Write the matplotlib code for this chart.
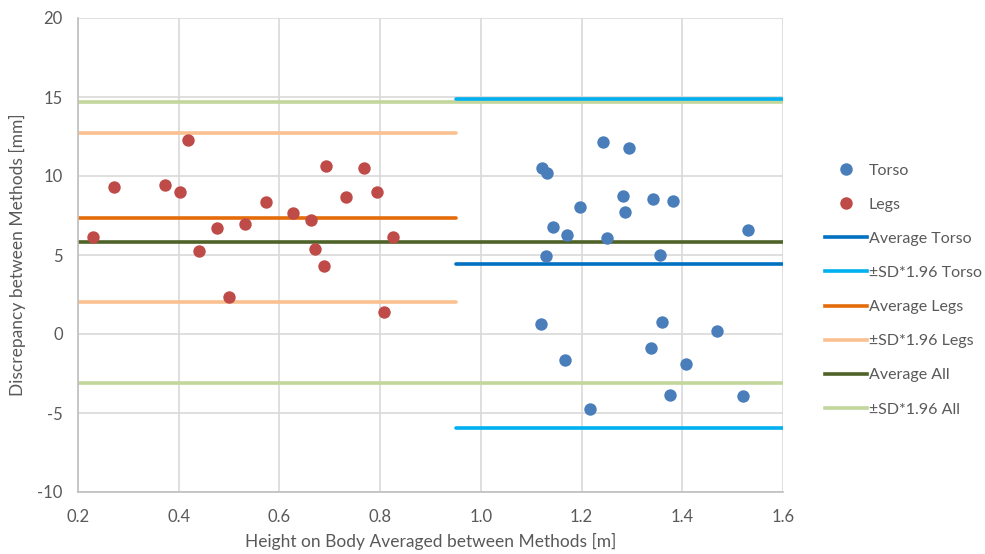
import matplotlib
matplotlib.use("Agg")
import matplotlib.pyplot as plt
from matplotlib.lines import Line2D

plt.rcParams['font.family'] = ['Lato', 'DejaVu Sans']
plt.rcParams['axes.unicode_minus'] = False

# Data
torso_x = [1.122, 1.132, 1.243, 1.294, 1.282, 1.341, 1.382, 1.197, 1.287, 1.143, 1.171, 1.251,
           1.531, 1.130, 1.355, 1.119, 1.167, 1.217, 1.359, 1.337, 1.468, 1.408, 1.376, 1.520]
torso_y = [10.49, 10.17, 12.17, 11.79, 8.73, 8.56, 8.40, 8.02, 7.70, 6.79, 6.28, 6.09,
           6.58, 4.92, 4.98, 0.61, -1.62, -4.73, 0.74, -0.89, 0.17, -1.92, -3.86, -3.90]
legs_x = [0.230, 0.272, 0.373, 0.403, 0.418, 0.440, 0.477, 0.499, 0.532, 0.573,
          0.627, 0.662, 0.670, 0.689, 0.693, 0.732, 0.767, 0.793, 0.808, 0.825]
legs_y = [6.16, 9.32, 9.43, 9.01, 12.28, 5.27, 6.73, 2.34, 6.96, 8.37,
          7.64, 7.22, 5.40, 4.30, 10.61, 8.69, 10.49, 9.01, 1.41, 6.16]

torso_range = [0.95, 1.6]
legs_range = [0.2, 0.95]
all_range = [0.2, 1.6]
avg_torso = 4.45
sd_torso = [14.87, -5.95]
avg_legs = 7.35
sd_legs = [12.72, 2.03]
avg_all = 5.8
sd_all = [14.7, -3.1]

x_ticks = [0.2, 0.4, 0.6, 0.8, 1.0, 1.2, 1.4, 1.6]
y_ticks = [-10, -5, 0, 5, 10, 15, 20]

c_torso = '#4A7EBB'
c_legs = '#BE4B48'
c_avg_torso = '#0070C0'
c_sd_torso = '#00B0F0'
c_avg_legs = '#E46C0A'
c_sd_legs = '#FAC090'
c_avg_all = '#4F6228'
c_sd_all = '#C3D69B'
txt = '#595959'

fig = plt.figure(figsize=(9.85, 5.54), dpi=100)
ax = fig.add_axes([78/985, 62/554, 705/985, 474/554])

lw = 2.6
ax.plot(all_range, [sd_all[0]] * 2, color=c_sd_all, lw=lw, zorder=2)
ax.plot(all_range, [sd_all[1]] * 2, color=c_sd_all, lw=lw, zorder=2)
ax.plot(all_range, [avg_all] * 2, color=c_avg_all, lw=lw, zorder=2)
ax.plot(legs_range, [sd_legs[0]] * 2, color=c_sd_legs, lw=lw, zorder=2, solid_capstyle='round')
ax.plot(legs_range, [sd_legs[1]] * 2, color=c_sd_legs, lw=lw, zorder=2, solid_capstyle='round')
ax.plot(legs_range, [avg_legs] * 2, color=c_avg_legs, lw=lw, zorder=2, solid_capstyle='round')
ax.plot(torso_range, [sd_torso[0]] * 2, color=c_sd_torso, lw=lw, zorder=2, solid_capstyle='round')
ax.plot(torso_range, [sd_torso[1]] * 2, color=c_sd_torso, lw=lw, zorder=2, solid_capstyle='round')
ax.plot(torso_range, [avg_torso] * 2, color=c_avg_torso, lw=lw, zorder=2, solid_capstyle='round')

ax.scatter(torso_x, torso_y, s=80, color=c_torso, zorder=3, linewidths=0)
ax.scatter(legs_x, legs_y, s=80, color=c_legs, zorder=3, linewidths=0)

ax.set_xlim(0.2, 1.6)
ax.set_ylim(-10, 20)
ax.set_xticks(x_ticks)
ax.set_xticklabels([f"{v:.1f}" for v in x_ticks])
ax.set_yticks(y_ticks)
ax.grid(True, color='#D9D9D9', lw=1.2, zorder=0)
ax.set_axisbelow(True)
for s in ['top', 'right']:
    ax.spines[s].set_visible(False)
for s in ['left', 'bottom']:
    ax.spines[s].set_color('#BFBFBF')
    ax.spines[s].set_linewidth(1.2)
ax.tick_params(length=0, labelsize=12, colors=txt)
ax.tick_params(axis='x', pad=12)
ax.tick_params(axis='y', pad=11)
ax.set_xlabel('Height on Body Averaged between Methods [m]', fontsize=12.5, color=txt, labelpad=6)
ax.set_ylabel('Discrepancy between Methods [mm]', fontsize=12.5, color=txt, labelpad=8)

handles = [
    Line2D([], [], ls='none', marker='o', ms=9, color=c_torso, mec='none'),
    Line2D([], [], ls='none', marker='o', ms=9, color=c_legs, mec='none'),
    Line2D([], [], color=c_avg_torso, lw=lw),
    Line2D([], [], color=c_sd_torso, lw=lw),
    Line2D([], [], color=c_avg_legs, lw=lw),
    Line2D([], [], color=c_sd_legs, lw=lw),
    Line2D([], [], color=c_avg_all, lw=lw),
    Line2D([], [], color=c_sd_all, lw=lw),
]
labels = ['Torso', 'Legs', 'Average Torso', '\u00b1SD*1.96 Torso', 'Average Legs',
          '\u00b1SD*1.96 Legs', 'Average All', '\u00b1SD*1.96 All']
leg = fig.legend(handles, labels, loc='upper left', bbox_to_anchor=(819/985, 1 - 157/554),
                 frameon=False, fontsize=11.5, handlelength=2.6, handletextpad=0.1,
                 labelspacing=1.25, borderaxespad=0)
for t in leg.get_texts():
    t.set_color(txt)

fig.savefig('out.png', dpi=100)
